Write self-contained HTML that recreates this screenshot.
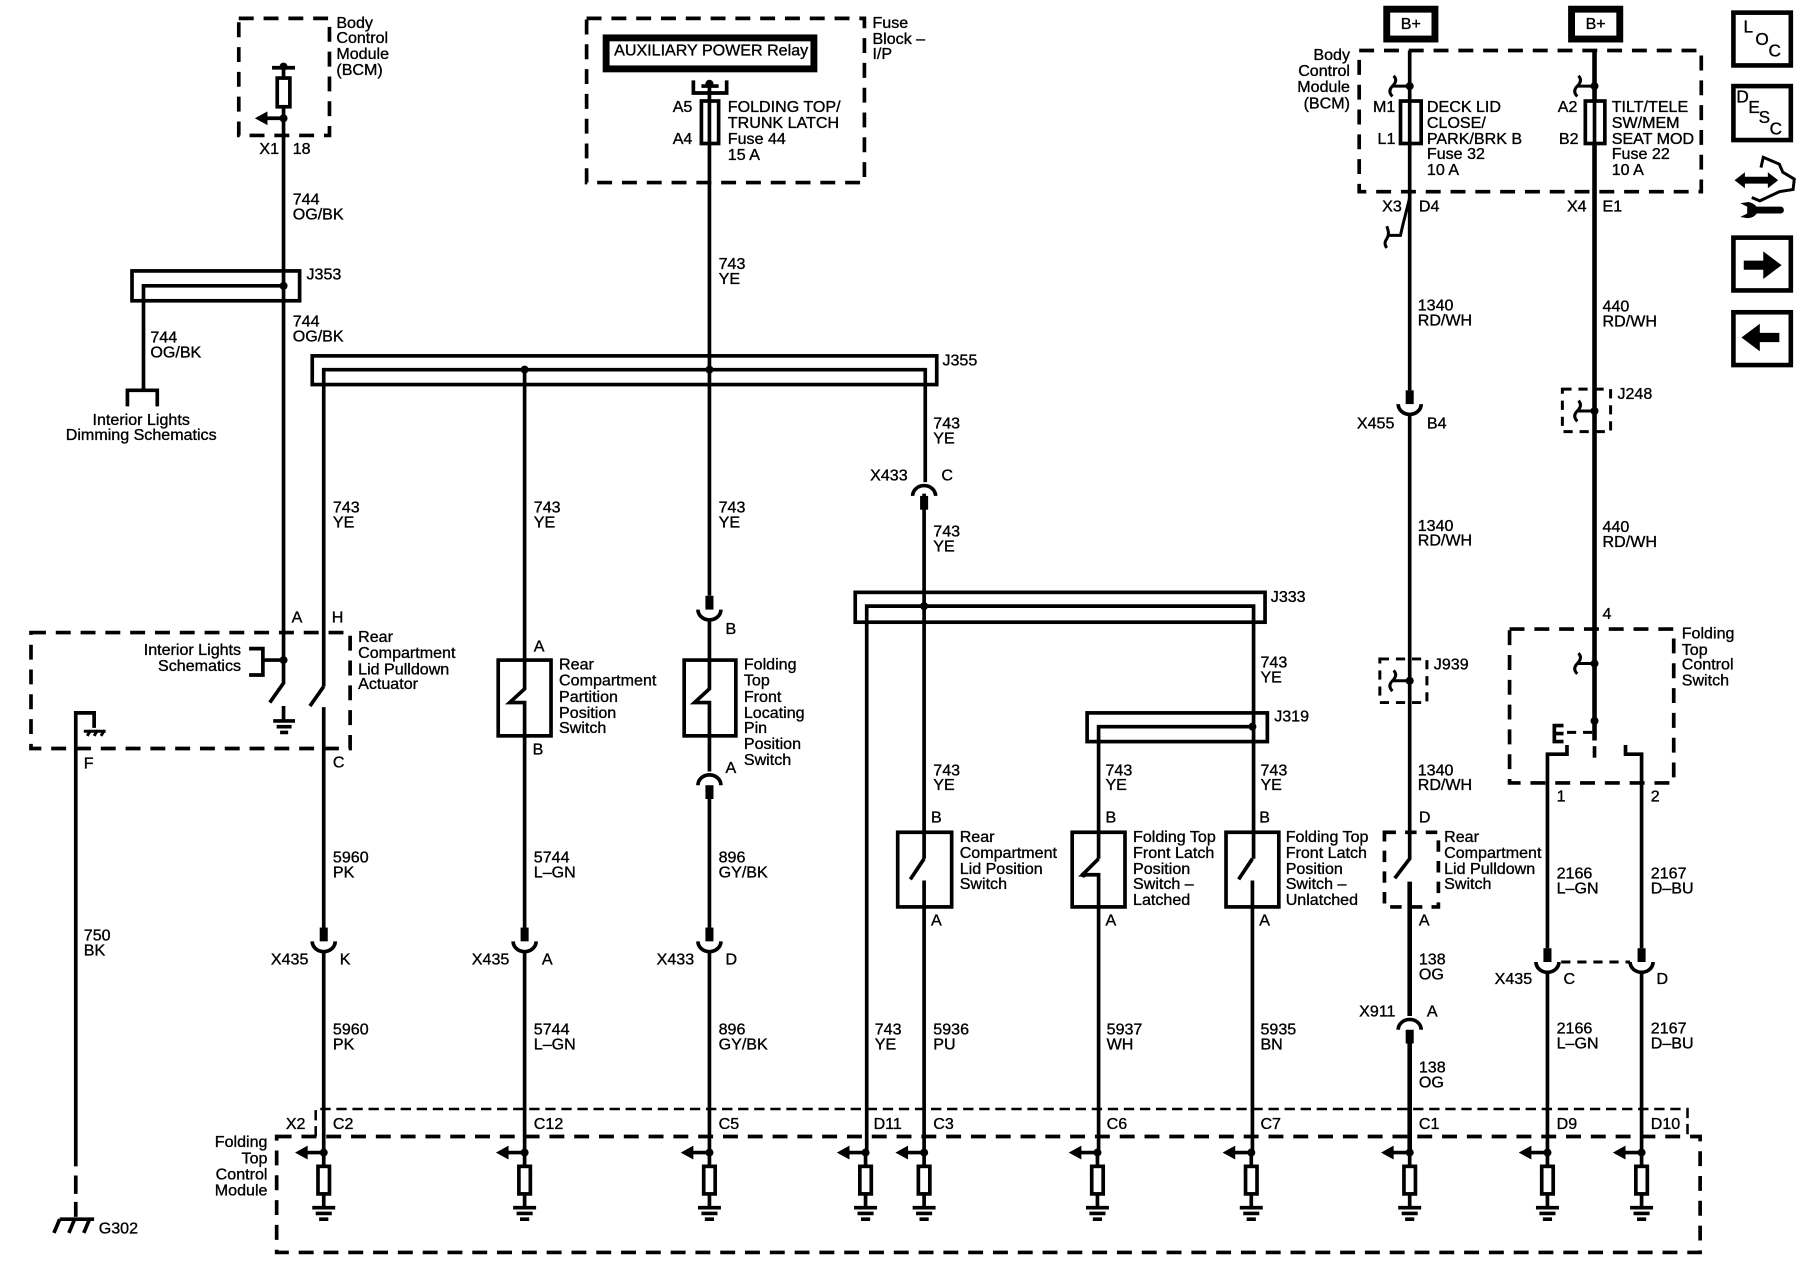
<!DOCTYPE html>
<html><head><meta charset="utf-8"><style>
html,body{margin:0;padding:0;background:#fff}
svg{display:block}
text{font-family:"Liberation Sans",sans-serif;font-size:14px;fill:#000;stroke:#000;stroke-width:.3px;dominant-baseline:central}
.e{text-anchor:end}.m{text-anchor:middle}
path,rect,line{fill:none;stroke:#000;stroke-width:3.2}
.d{stroke-dasharray:13 8.6}
.s{stroke-dasharray:8 6;stroke-width:2.6}
.x{stroke-dasharray:9 5;stroke-width:2.2}
.f{fill:#000;stroke:none}
.t{stroke-width:6}
.b{stroke-width:4}
.h{stroke-width:2.6}
.w{fill:#fff}
</style></head><body>
<svg width="1800" height="1280" viewBox="0 0 1568 1115" preserveAspectRatio="none" xmlns="http://www.w3.org/2000/svg">
<defs>
<g id="term"><path d="M-18 0H0V12M0 36V48"/><path class="f" d="M-25 0L-14 -6V6Z"/><circle class="f" cx="0" cy="0" r="3.5"/><rect class="w" x="-5" y="12" width="10" height="24"/><path d="M-10 48H10M-7 53H7M-4 58H4"/></g>
<g id="cd"><rect class="f" x="-3.5" y="-12" width="7" height="12"/><path d="M-10 0A10 9 0 0 0 10 0"/></g>
<g id="cu"><rect class="f" x="-3.5" y="0" width="7" height="12"/><path d="M-10 0A10 9 0 0 1 10 0"/></g>
<g id="hook"><path class="h" d="M0 0H-15M-14 -9C-11 -6 -12 -3 -15 0C-18 3 -18 6 -15 9"/><circle class="f" r="3.5"/></g>
</defs>

<!-- top-left BCM -->
<rect class="d" x="208" y="16" width="79" height="102"/>
<path d="M247 59V595L235 612"/>
<path d="M237 59H257"/><circle class="f" cx="247" cy="58" r="3.5"/>
<rect class="w" x="241.5" y="68" width="11" height="25"/>
<path d="M232 103H247"/><path class="f" d="M222 103L233 97V109Z"/><circle class="f" cx="247" cy="103" r="3.5"/>
<text x="293" y="20">Body</text><text x="293" y="33">Control</text><text x="293" y="47">Module</text><text x="293" y="61">(BCM)</text>
<text x="226" y="130">X1</text><text x="255" y="130">18</text>
<text x="255" y="174">744</text><text x="255" y="187">OG/BK</text>
<rect x="115" y="236" width="146" height="26"/>
<path d="M125 339V249H247"/><circle class="f" cx="247" cy="249" r="3.5"/>
<path d="M111 354V340H137V354"/>
<text x="267" y="239">J353</text>
<text x="131" y="294">744</text><text x="131" y="307">OG/BK</text>
<text x="255" y="280">744</text><text x="255" y="293">OG/BK</text>
<text class="m" x="123" y="366">Interior Lights</text><text class="m" x="123" y="379">Dimming Schematics</text>

<!-- Relay & fuse block -->
<rect class="d" x="511" y="16" width="242" height="143"/>
<rect class="t w" x="528" y="33" width="181" height="27"/>
<text x="535" y="44">AUXILIARY POWER Relay</text>
<text x="760" y="20">Fuse</text><text x="760" y="34">Block –</text><text x="760" y="47">I/P</text>
<path d="M604 70V81H633V70"/><path d="M611 75H626"/><circle class="f" cx="618" cy="73" r="3.5"/>
<path d="M618 74V519M618 541V575"/>
<rect class="w" x="611" y="88" width="15" height="37"/><path d="M618 88V125"/>
<text x="586" y="93">A5</text><text x="586" y="121">A4</text>
<text x="634" y="93">FOLDING TOP/</text><text x="634" y="107">TRUNK LATCH</text><text x="634" y="121">Fuse 44</text><text x="634" y="135">15 A</text>
<text x="626" y="230">743</text><text x="626" y="243">YE</text>

<!-- J355 -->
<rect x="272" y="310" width="544" height="25"/>
<path d="M282 598V322H806V420"/>
<circle class="f" cx="457" cy="322" r="3.5"/><circle class="f" cx="618" cy="322" r="3.5"/>
<text x="821" y="314">J355</text>
<text x="813" y="369">743</text><text x="813" y="382">YE</text>
<text x="758" y="414">X433</text><text x="820" y="414">C</text>
<use href="#cu" x="805" y="432"/>
<text x="813" y="463">743</text><text x="813" y="476">YE</text>
<text x="290" y="442">743</text><text x="290" y="455">YE</text>
<text x="465" y="442">743</text><text x="465" y="455">YE</text>
<text x="626" y="442">743</text><text x="626" y="455">YE</text>

<!-- Actuator -->
<rect class="d" x="27" y="551" width="278" height="101"/>
<text x="254" y="538">A</text><text x="289" y="538">H</text>
<text x="312" y="555">Rear</text><text x="312" y="569">Compartment</text><text x="312" y="583">Lid Pulldown</text><text x="312" y="596">Actuator</text>
<text class="e" x="210" y="566">Interior Lights</text><text class="e" x="210" y="580">Schematics</text>
<path d="M217 565H229V588H217M229 575H247"/><circle class="f" cx="247" cy="575" r="3.5"/>
<path d="M247 615V628M238 628H257M241 633H254M244 638H251"/>
<path d="M282 598L270 615M282 616V809M282 829V1004"/>
<path d="M66 652V621H82V634"/>
<path class="h" d="M73 637H92M76 641L79 636M82 641L85 636M88 641L91 636"/>
<path d="M66 652V1016"/>
<path d="M66 1024V1040M66 1047V1060"/>
<path d="M52 1062H82M52 1062L47 1074M65 1062L60 1074M78 1062L73 1074"/>
<text x="86" y="1070">G302</text>
<text x="73" y="665">F</text><text x="73" y="815">750</text><text x="73" y="828">BK</text>
<text x="290" y="664">C</text>
<text x="290" y="747">5960</text><text x="290" y="760">PK</text>
<use href="#cd" x="282" y="820"/>
<text x="236" y="836">X435</text><text x="296" y="836">K</text>
<text x="290" y="897">5960</text><text x="290" y="910">PK</text>

<!-- 457 column -->
<path d="M457 322V600L444 612H457V809M457 829V1004"/>
<rect x="434" y="575" width="46" height="66"/>
<text x="465" y="563">A</text><text x="464" y="653">B</text>
<text x="487" y="579">Rear</text><text x="487" y="593">Compartment</text><text x="487" y="607">Partition</text><text x="487" y="621">Position</text><text x="487" y="634">Switch</text>
<text x="465" y="747">5744</text><text x="465" y="760">L–GN</text>
<use href="#cd" x="457" y="820"/>
<text x="411" y="836">X435</text><text x="472" y="836">A</text>
<text x="465" y="897">5744</text><text x="465" y="910">L–GN</text>

<!-- 618 column -->
<use href="#cd" x="618" y="531"/>
<text x="632" y="548">B</text>
<path d="M618 575V600L605 612H618V672M618 685V809M618 829V1004"/>
<rect x="596" y="575" width="45" height="66"/>
<use href="#cu" x="618" y="684"/>
<text x="632" y="669">A</text>
<text x="648" y="579">Folding</text><text x="648" y="593">Top</text><text x="648" y="607">Front</text><text x="648" y="621">Locating</text><text x="648" y="634">Pin</text><text x="648" y="648">Position</text><text x="648" y="662">Switch</text>
<text x="626" y="747">896</text><text x="626" y="760">GY/BK</text>
<use href="#cd" x="618" y="820"/>
<text x="572" y="836">X433</text><text x="632" y="836">D</text>
<text x="626" y="897">896</text><text x="626" y="910">GY/BK</text>

<!-- J333 -->
<rect x="745" y="516" width="357" height="26"/>
<path d="M755 1004V528H1092V748M805 430V748"/>
<circle class="f" cx="805" cy="528" r="3.5"/>
<text x="1107" y="520">J333</text>
<text x="1098" y="577">743</text><text x="1098" y="590">YE</text>
<rect x="947" y="621" width="157" height="25"/>
<path d="M957 748V633H1091"/><circle class="f" cx="1091" cy="633" r="3.5"/>
<text x="1110" y="624">J319</text>
<text x="813" y="671">743</text><text x="813" y="684">YE</text>
<text x="963" y="671">743</text><text x="963" y="684">YE</text>
<text x="1098" y="671">743</text><text x="1098" y="684">YE</text>
<text x="811" y="712">B</text><text x="963" y="712">B</text><text x="1097" y="712">B</text>
<rect x="782" y="725" width="47" height="65"/><rect x="934" y="725" width="46" height="65"/><rect x="1068" y="725" width="46" height="65"/>
<path d="M805 748L793 766M805 767V1004"/>
<path d="M957 748L943 762H957V1004"/><circle class="f" cx="944" cy="762" r="2.5"/>
<path d="M1091 748L1079 766M1091 767V1004"/>
<text x="811" y="802">A</text><text x="963" y="802">A</text><text x="1097" y="802">A</text>
<text x="836" y="729">Rear</text><text x="836" y="743">Compartment</text><text x="836" y="757">Lid Position</text><text x="836" y="770">Switch</text>
<text x="987" y="729">Folding Top</text><text x="987" y="743">Front Latch</text><text x="987" y="757">Position</text><text x="987" y="770">Switch –</text><text x="987" y="784">Latched</text>
<text x="1120" y="729">Folding Top</text><text x="1120" y="743">Front Latch</text><text x="1120" y="757">Position</text><text x="1120" y="770">Switch –</text><text x="1120" y="784">Unlatched</text>
<text x="762" y="897">743</text><text x="762" y="910">YE</text>
<text x="813" y="897">5936</text><text x="813" y="910">PU</text>
<text x="964" y="897">5937</text><text x="964" y="910">WH</text>
<text x="1098" y="897">5935</text><text x="1098" y="910">BN</text>

<!-- Right BCM -->
<rect class="t w" x="1208" y="8" width="42" height="26"/><text class="m" x="1229" y="21">B+</text>
<rect class="t w" x="1369" y="8" width="42" height="26"/><text class="m" x="1390" y="21">B+</text>
<rect class="d" x="1184" y="44" width="298" height="123"/>
<text class="e" x="1176" y="48">Body</text><text class="e" x="1176" y="62">Control</text><text class="e" x="1176" y="76">Module</text><text class="e" x="1176" y="90">(BCM)</text>
<path d="M1228 44V340M1228 362V574"/>
<path class="b" d="M1389 44V645"/>
<use href="#hook" x="1228" y="75"/><use href="#hook" x="1389" y="75"/>
<rect class="w" x="1220" y="88" width="18" height="37"/><path d="M1228 88V125"/>
<rect class="w" x="1381" y="88" width="17" height="37"/><path d="M1389 88V125"/>
<text x="1196" y="93">M1</text><text x="1200" y="121">L1</text><text x="1357" y="93">A2</text><text x="1358" y="121">B2</text>
<text x="1243" y="93">DECK LID</text><text x="1243" y="107">CLOSE/</text><text x="1243" y="121">PARK/BRK B</text><text x="1243" y="134">Fuse 32</text><text x="1243" y="148">10 A</text>
<text x="1404" y="93">TILT/TELE</text><text x="1404" y="107">SW/MEM</text><text x="1404" y="121">SEAT MOD</text><text x="1404" y="134">Fuse 22</text><text x="1404" y="148">10 A</text>
<text x="1204" y="180">X3</text><text x="1236" y="180">D4</text><text x="1365" y="180">X4</text><text x="1396" y="180">E1</text>
<path class="h" d="M1228 172C1225 185 1222 195 1220 205H1208M1208 197C1210 202 1210 205 1208 208C1206 211 1206 213 1208 216"/>
<text x="1235" y="266">1340</text><text x="1235" y="279">RD/WH</text>
<text x="1396" y="267">440</text><text x="1396" y="280">RD/WH</text>
<use href="#cd" x="1228" y="352"/>
<text x="1182" y="369">X455</text><text x="1243" y="369">B4</text>
<rect class="s" x="1361" y="339" width="42" height="37"/>
<use href="#hook" x="1389" y="358"/>
<text x="1409" y="343">J248</text>
<text x="1235" y="458">1340</text><text x="1235" y="471">RD/WH</text>
<text x="1396" y="459">440</text><text x="1396" y="472">RD/WH</text>
<rect class="s" x="1202" y="574" width="41" height="38"/>
<path d="M1228 574V748L1215 765"/>
<path class="b" d="M1228 768V885"/>
<use href="#hook" x="1228" y="593"/>
<text x="1249" y="579">J939</text>
<text x="1235" y="671">1340</text><text x="1235" y="684">RD/WH</text>
<text x="1236" y="712">D</text>
<rect class="d" x="1206" y="725" width="47" height="65" style="stroke-dasharray:10 8"/>
<text x="1258" y="729">Rear</text><text x="1258" y="743">Compartment</text><text x="1258" y="757">Lid Pulldown</text><text x="1258" y="770">Switch</text>
<text x="1236" y="802">A</text>
<text x="1236" y="836">138</text><text x="1236" y="849">OG</text>
<text x="1184" y="881">X911</text><text x="1243" y="881">A</text>
<use href="#cu" x="1228" y="897"/>
<path class="b" d="M1228 905V1004"/>
<text x="1236" y="930">138</text><text x="1236" y="943">OG</text>

<!-- Folding Top Control Switch -->
<text x="1396" y="535">4</text>
<rect class="d" x="1315" y="548" width="143" height="134"/>
<use href="#hook" x="1389" y="578"/>
<circle class="f" cx="1389" cy="628" r="3.5"/>
<path d="M1389 650V660"/>
<text x="1465" y="552">Folding</text><text x="1465" y="566">Top</text><text x="1465" y="579">Control</text><text x="1465" y="593">Switch</text>
<path d="M1362 632H1354V646H1362M1354 639H1362"/>
<path class="s" d="M1365 638H1389"/>
<path d="M1365 649V657H1348V826M1348 847V1004"/>
<path d="M1416 649V657H1430V826M1430 847V1004"/>
<text x="1356" y="694">1</text><text x="1438" y="694">2</text>
<text x="1356" y="761">2166</text><text x="1356" y="774">L–GN</text>
<text x="1438" y="761">2167</text><text x="1438" y="774">D–BU</text>
<use href="#cd" x="1348" y="838"/><use href="#cd" x="1430" y="838"/>
<path class="s" d="M1360 838H1420"/>
<text x="1302" y="853">X435</text><text x="1362" y="853">C</text><text x="1443" y="853">D</text>
<text x="1356" y="896">2166</text><text x="1356" y="909">L–GN</text>
<text x="1438" y="896">2167</text><text x="1438" y="909">D–BU</text>

<!-- Bottom module -->
<path class="x" d="M275 990V966H1470V990"/>
<rect class="d" x="241" y="990" width="1240" height="101"/>
<text x="249" y="979">X2</text><text x="290" y="979">C2</text><text x="465" y="979">C12</text><text x="626" y="979">C5</text><text x="761" y="979">D11</text><text x="813" y="979">C3</text><text x="964" y="979">C6</text><text x="1098" y="979">C7</text><text x="1236" y="979">C1</text><text x="1356" y="979">D9</text><text x="1438" y="979">D10</text>
<text class="e" x="233" y="995">Folding</text><text class="e" x="233" y="1009">Top</text><text class="e" x="233" y="1023">Control</text><text class="e" x="233" y="1037">Module</text>
<use href="#term" x="282" y="1004"/><use href="#term" x="457" y="1004"/><use href="#term" x="618" y="1004"/><use href="#term" x="754" y="1004"/><use href="#term" x="805" y="1004"/><use href="#term" x="956" y="1004"/><use href="#term" x="1090" y="1004"/><use href="#term" x="1228" y="1004"/><use href="#term" x="1348" y="1004"/><use href="#term" x="1430" y="1004"/>

<!-- Icons -->
<rect class="b" x="1510" y="11" width="50" height="46"/>
<rect class="b" x="1510" y="75" width="50" height="47"/>
<rect class="b" x="1510" y="207" width="50" height="46"/>
<rect class="b" x="1510" y="272" width="50" height="46"/>
<text class="m" x="1523" y="23" style="font-size:15px">L</text><text class="m" x="1535" y="34" style="font-size:15px">O</text><text class="m" x="1546" y="44" style="font-size:15px">C</text>
<text class="m" x="1518" y="84" style="font-size:15px">D</text><text class="m" x="1528" y="93" style="font-size:15px">E</text><text class="m" x="1537" y="102" style="font-size:15px">S</text><text class="m" x="1547" y="112" style="font-size:15px">C</text>
<path class="f" d="M1519 227H1536V219L1552 231L1536 243V235H1519Z"/>
<path class="f" d="M1550 290H1533V282L1517 294L1533 306V298H1550Z"/>
<path class="f" d="M1511 157L1520 150V154H1540V150L1549 157L1540 164V160H1520V164Z"/>
<path class="h" d="M1534 146L1536 137L1550 143L1553 150L1563 156L1562 165L1550 167L1533 175L1526 172"/>
<path class="t" d="M1526 183H1551" style="stroke-linecap:round"/>
<path class="f" d="M1516 177L1523 176C1528 177 1531 180 1531 183C1531 187 1527 190 1522 190L1516 189L1522 186V180Z"/>
</svg>
</body></html>
